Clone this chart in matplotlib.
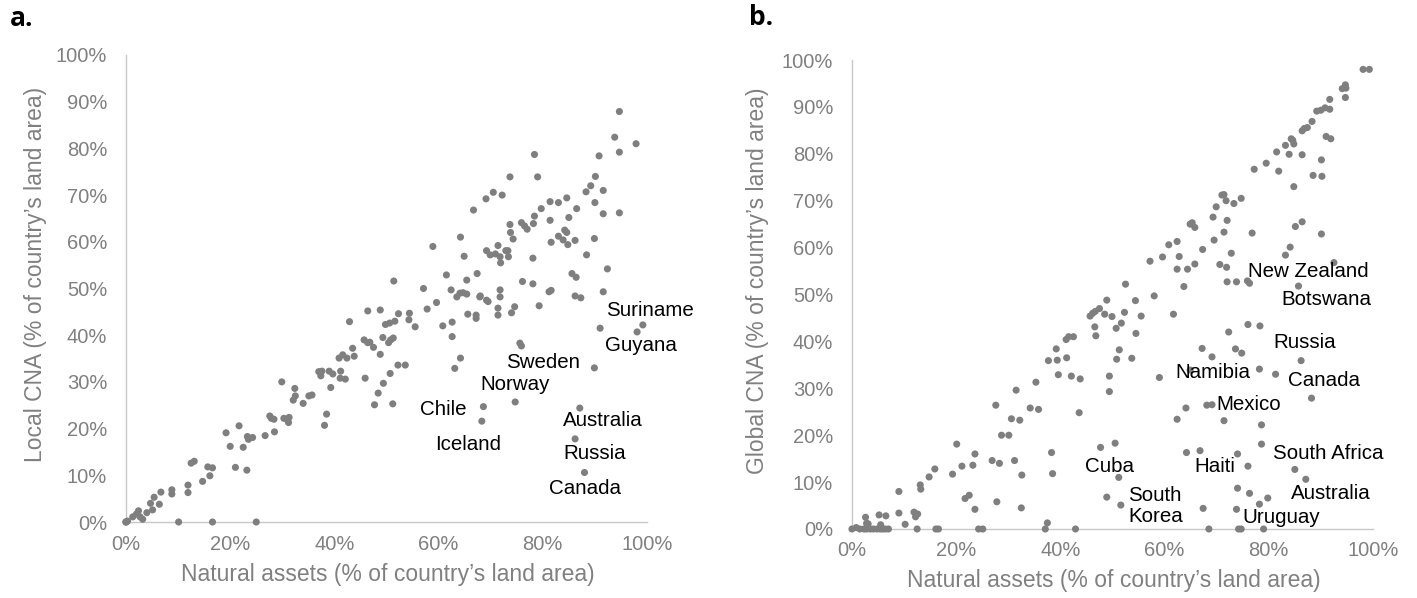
import matplotlib
matplotlib.use("Agg")
import matplotlib.pyplot as plt
from matplotlib.ticker import FuncFormatter

# ---------------- data (percent of country's land area) ----------------
a_natural = [0, 0, 0, 0.3, 1.3, 2.0, 2.4, 2.7, 3.2, 4.0, 4.7, 5.1, 5.4, 6.4, 6.7, 8.8, 8.8,
             10.1, 11.9, 11.9, 12.5, 13.1, 14.7, 15.7, 16.1, 16.6, 16.6, 19.2, 20.0, 21.0,
             21.7, 22.5, 23.2, 23.3, 23.5, 24.3, 25.0, 26.7, 27.6, 27.9, 28.4, 28.5, 29.9,
             30.3, 31.0, 31.3, 31.2, 32.1, 32.4, 32.5, 34.0, 35.1, 35.7, 37.0, 37.4, 37.6,
             38.1, 38.5, 39.0, 39.3, 39.7, 40.9, 41.1, 41.2, 41.6, 42.1, 42.4, 42.9, 43.5,
             43.8, 45.9, 45.7, 46.4, 46.8, 47.5, 49.3, 50.4, 50.8, 51.3, 48.8, 52.2, 53.6,
             50.7, 49.4, 48.4, 47.7, 51.2, 46.4, 48.8, 52.3, 54.4, 49.8, 50.6, 51.6, 54.3,
             55.5, 51.4, 57.1, 57.8, 59.6, 58.9, 60.8, 62.6, 62.6, 63.5, 64.1, 64.7, 65.4,
             65.6, 67.2, 67.2, 67.9, 69.2, 71.4, 71.4, 71.8, 71.8, 74.0, 74.6, 79.3, 81.2,
             81.6, 86.2, 87.3, 91.6, 63.1, 64.2, 75.6, 75.9, 91.0, 99.2, 98.1, 89.9, 68.6,
             68.3, 74.7, 87.1, 86.2, 88.0, 94.7, 93.8, 97.9, 94.7, 90.8, 78.4, 73.7, 79.0,
             90.1, 89.2, 88.3, 91.6, 70.5, 69.1, 72.2, 66.7, 81.4, 83.0, 84.6, 79.7, 86.5,
             90.0, 91.6, 94.7, 78.4, 73.7, 75.9, 76.5, 77.0, 78.2, 81.4, 85.0, 73.8, 74.3,
             84.2, 84.6, 83.0, 83.9, 84.8, 81.6, 86.2, 89.9, 88.4, 92.4, 64.2, 64.9, 71.4,
             69.2, 69.9, 70.9, 71.8, 71.9, 72.9, 73.3, 73.4, 78.1, 61.5, 65.4, 67.4, 85.6,
             86.4, 76.1, 78.1, 62.4, 68.0, 69.5]
a_local = [0, 0, 0, 0.2, 1.1, 1.7, 2.4, 1.1, 0.6, 2.0, 4.0, 2.6, 5.3, 3.8, 6.4, 6.9, 6.0,
           0, 7.9, 6.3, 12.6, 13.0, 8.7, 11.8, 9.9, 11.6, 0, 19.1, 16.2, 11.7,
           20.6, 16.0, 11.1, 18.3, 17.7, 18.1, 0, 18.5, 22.7, 22.2, 22.0, 19.3, 30.0,
           22.2, 21.8, 22.4, 21.3, 26.1, 28.6, 27.0, 25.4, 27.0, 27.2, 32.2, 31.3, 32.3,
           20.7, 23.1, 32.3, 28.8, 31.7, 35.1, 30.8, 32.3, 35.8, 30.6, 35.1, 42.9, 37.2,
           35.5, 30.8, 39.0, 38.4, 38.5, 37.4, 39.5, 38.4, 39.0, 39.4, 35.9, 33.6, 33.6,
           31.8, 29.7, 27.6, 25.1, 25.3, 45.2, 45.4, 44.6, 44.7, 42.3, 42.6, 43.0, 43.3,
           41.8, 51.6, 50.0, 45.6, 47.0, 59.0, 42.0, 42.8, 39.7, 48.2, 49.0, 49.1, 48.8,
           44.5, 44.3, 43.6, 48.2, 47.5, 45.8, 44.3, 49.7, 48.2, 44.8, 46.1, 46.3, 49.3,
           49.6, 48.4, 48.0, 49.3, 32.9, 35.1, 38.3, 37.7, 41.5, 42.2, 40.7, 33.0, 24.7,
           21.6, 25.7, 24.4, 17.8, 10.6, 87.9, 82.4, 81.0, 79.2, 78.4, 78.7, 73.9, 73.9,
           74.0, 72.0, 70.7, 71.0, 70.6, 69.2, 70.0, 66.8, 68.6, 68.4, 69.4, 67.1, 67.1,
           68.4, 66.0, 66.2, 65.5, 63.7, 64.1, 63.4, 62.7, 63.9, 64.6, 65.2, 62.0, 60.6,
           62.5, 62.0, 61.2, 60.4, 59.4, 59.9, 60.3, 60.7, 57.2, 54.2, 61.0, 56.9, 59.2,
           58.1, 57.2, 57.4, 56.8, 55.5, 58.1, 58.1, 56.8, 56.5, 52.9, 51.8, 53.2, 53.2,
           52.4, 51.5, 51.0, 49.7, 48.4, 47.2]

b_natural = [0, 1.5, 2.3, 2.8, 3.5, 4.1, 4.8, 5.4, 5.9, 6.4, 7.0, 0.8, 2.6, 2.8, 3.1, 5.2,
             5.5, 6.5, 9.0, 9.0, 10.2, 11.9, 12.6, 12.2, 12.5, 13.1, 13.2, 14.8, 15.9, 16.1,
             16.6, 19.3, 20.1, 21.1, 21.7, 22.5, 23.2, 23.6, 23.6, 24.3, 25.1, 26.9, 27.6,
             27.8, 28.3, 28.7, 30.1, 30.6, 31.2, 31.5, 32.2, 32.5, 32.6, 34.2, 35.3, 35.8,
             37.1, 37.5, 37.7, 38.3, 38.5, 39.2, 39.4, 39.6, 42.1, 43.8, 41.2, 41.1, 41.6,
             42.5, 46.6, 46.8, 45.7, 46.2, 46.7, 47.5, 48.5, 48.9, 49.9, 50.7, 51.7, 52.3,
             52.5, 54.4, 55.5, 54.5, 51.3, 50.8, 53.7, 49.4, 49.4, 57.2, 59.6, 60.8, 62.4,
             62.8, 62.4, 64.4, 65.8, 58.0, 61.7, 59.0, 63.7, 67.3, 69.5, 71.4, 76.8, 64.9,
             65.3, 65.8, 69.3, 72.0, 69.9, 73.3, 74.7, 71.0, 71.4, 71.8, 77.2, 79.5, 81.9,
             81.5, 83.9, 86.4, 90.1, 83.2, 84.3, 84.6, 84.8, 86.4, 86.8, 87.4, 88.3, 89.2,
             90.0, 90.8, 91.7, 91.0, 91.9, 91.7, 94.7, 94.1, 94.8, 94.7, 98.1, 99.3, 88.5,
             90.2, 84.8, 86.4, 85.1, 90.1, 84.1, 83.2, 72.8, 70.6, 71.9, 72.0, 73.8, 75.9,
             76.3, 92.5, 85.7, 43.6, 72.3, 76.0, 78.3, 67.2, 69.1, 73.6, 74.8, 86.2, 78.2,
             81.3, 88.2, 64.9, 64.1, 68.1, 69.1, 62.4, 71.4, 78.6, 78.6, 47.7, 50.5, 64.2,
             66.8, 74.0, 76.0, 85.0, 87.1, 51.2, 48.9, 51.6, 67.4, 74.0, 76.3, 78.2, 79.8,
             73.8, 42.9, 68.5, 74.2, 74.7, 79.0]
b_global = [0, 0, 0, 0, 0, 0, 0, 0, 0, 0, 0, 0.3, 2.5, 1.2, 1.1, 3.0,
            0.9, 2.8, 8.0, 3.4, 1.0, 3.6, 3.2, 2.6, 0, 9.4, 8.5, 11.1, 12.8, 0,
            0, 11.7, 18.1, 13.4, 6.5, 7.2, 13.6, 16.0, 4.2, 0, 0, 14.6, 26.4,
            5.8, 14.0, 20.0, 20.0, 23.5, 14.6, 29.6, 23.2, 4.5, 11.5, 25.8, 31.3, 25.5,
            0, 1.3, 35.9, 16.3, 11.8, 38.4, 36.0, 32.9, 32.6, 32.0, 36.5, 40.4, 41.0,
            41.0, 43.1, 41.2, 45.4, 46.0, 46.4, 47.0, 45.8, 48.8, 45.3, 42.8, 43.9, 46.2,
            52.2, 48.7, 45.4, 41.7, 38.2, 36.2, 36.4, 32.6, 29.3, 57.1, 58.0, 60.6, 61.3,
            58.1, 55.4, 55.4, 56.5, 49.7, 45.8, 32.3, 51.7, 59.6, 61.6, 63.3, 63.1, 65.0,
            65.3, 64.3, 66.5, 65.8, 68.7, 69.4, 70.5, 71.2, 71.3, 70.0, 76.7, 78.0, 76.3,
            80.4, 79.9, 79.8, 78.7, 81.8, 83.2, 82.9, 82.1, 84.9, 85.4, 85.6, 86.9, 89.1,
            89.3, 89.8, 89.5, 83.7, 83.2, 91.6, 94.7, 93.9, 94.0, 92.0, 98.0, 98.0, 75.4,
            75.2, 73.0, 65.5, 64.5, 62.9, 60.1, 58.4, 58.8, 56.4, 55.8, 52.7, 52.7, 52.9,
            52.4, 56.8, 51.8, 24.8, 42.0, 43.6, 43.3, 38.5, 36.7, 38.4, 37.5, 35.9, 34.1,
            33.0, 27.9, 33.9, 25.8, 26.4, 26.5, 23.4, 23.1, 22.2, 18.1, 17.4, 18.3, 16.3,
            16.7, 16.0, 13.4, 12.7, 10.6, 11.0, 6.8, 5.1, 4.4, 8.7, 7.6, 5.3, 6.6,
            4.2, 0, 0, 0, 0, 0]

# country labels (text, anchor x, anchor y in data %)
a_labels = [("Suriname", 100.5, 45.2), ("Guyana", 98.8, 37.8), ("Sweden", 80.0, 34.1),
            ("Norway", 74.7, 29.4), ("Chile", 60.8, 24.1), ("Iceland", 65.6, 16.7),
            ("Australia", 91.6, 21.8), ("Russia", 90.0, 14.6), ("Canada", 88.1, 7.1)]
b_labels = [("New Zealand", 87.5, 54.8), ("Botswana", 91.0, 49.0), ("Russia", 86.8, 39.7),
            ("Canada", 90.6, 31.6), ("Namibia", 69.2, 33.4), ("Mexico", 76.1, 26.5),
            ("South Africa", 91.4, 16.0), ("Cuba", 49.5, 13.3), ("Haiti", 69.7, 13.4),
            ("South\nKorea", 58.0, 4.9), ("Australia", 91.9, 7.6), ("Uruguay", 82.4, 2.5)]
ticks = [0, 20, 40, 60, 80, 100]
yticks = [0, 10, 20, 30, 40, 50, 60, 70, 80, 90, 100]

# ---------------- styling ----------------
plt.rcParams['font.family'] = ['Liberation Sans', 'DejaVu Sans']
DOT = '#7f7f7f'
TXT = '#808080'
AX = '#c8c8c8'
W, H = 1417, 598
fig = plt.figure(figsize=(W / 100, H / 100), dpi=100)


def make_panel(rect, xs, ys, labels, ylabel, ylab_x, xlab_y, letter, letter_xy):
    ax = fig.add_axes(rect)
    ax.scatter(xs, ys, s=26, color=DOT, edgecolors='none', clip_on=False, zorder=3)
    ax.set_xlim(0, 100)
    ax.set_ylim(0, 100)
    ax.set_xticks(ticks)
    ax.set_yticks(yticks)
    fmt = FuncFormatter(lambda v, p: f"{v:.0f}%")
    ax.xaxis.set_major_formatter(fmt)
    ax.yaxis.set_major_formatter(fmt)
    for s in ['top', 'right']:
        ax.spines[s].set_visible(False)
    for s in ['left', 'bottom']:
        ax.spines[s].set_color(AX)
        ax.spines[s].set_linewidth(1.0)
        ax.spines[s].set_zorder(1)
    ax.tick_params(axis='both', length=0, labelsize=14.5, labelcolor=TXT)
    ax.tick_params(axis='y', pad=13.5)
    ax.tick_params(axis='x', pad=9)
    ax.set_xlabel("Natural assets (% of country\u2019s land area)", fontsize=16.5, color=TXT)
    ax.xaxis.set_label_coords(0.503, xlab_y)
    ax.xaxis.label.set_verticalalignment('center')
    ax.set_ylabel(ylabel, fontsize=16.5, color=TXT)
    ax.yaxis.set_label_coords(ylab_x, 0.53)
    ax.yaxis.label.set_verticalalignment('center')
    for name, lx, ly in labels:
        ha = 'left' if '\n' in name else 'center'
        ax.text(lx - (5 if ha == 'left' else 0), ly, name, fontsize=14.8, color='black',
                ha=ha, va='center', zorder=4, clip_on=False, linespacing=1.15)
    fig.text(letter_xy[0], letter_xy[1], letter, fontsize=19, fontweight='bold',
             family=['Open Sans', 'DejaVu Sans'], ha='left', va='baseline')
    return ax


make_panel([126 / W, 76 / H, 521 / W, 467 / H], a_natural, a_local, a_labels,
           "Local CNA (% of country\u2019s land area)", -0.173, -0.113, "a.", (10 / W, 1 - 26 / H))
make_panel([852 / W, 69 / H, 521 / W, 469 / H], b_natural, b_global, b_labels,
           "Global CNA (% of country\u2019s land area)", -0.182, -0.109, "b.", (749 / W, 1 - 25 / H))

fig.savefig("out.png", dpi=100, facecolor='white')
